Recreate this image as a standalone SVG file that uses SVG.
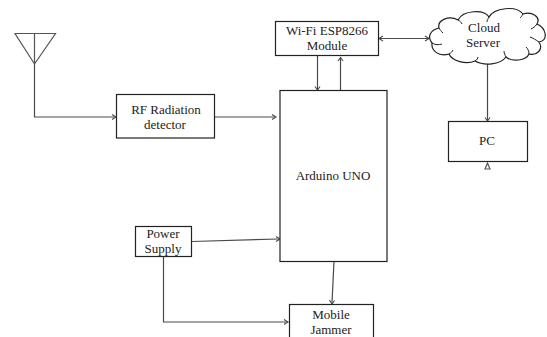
<svg xmlns="http://www.w3.org/2000/svg" width="547" height="337" viewBox="0 0 547 337">
<style>
.b{fill:#fff;stroke:#222;stroke-width:1.2}
.g{fill:#fff;stroke:#555;stroke-width:1.2}
.c{fill:none;stroke:#4a4a4a;stroke-width:1.2}
.h{fill:none;stroke:#4a4a4a;stroke-width:1.1}
.d{fill:none;stroke:#222;stroke-width:1}
text{font-family:"Liberation Serif","Times New Roman",serif;font-size:13px;fill:#222;text-anchor:middle}
</style>
<rect width="547" height="337" fill="#fff"/>
<g id="connectors">
<path class="c" d="M34.500 64V117H115"/><path class="h" d="M112 114.500L116 117L112 119.500"/>
<path class="c" d="M215 117H275"/><path class="h" d="M272 114.500L276 117L272 119.500"/>
<path class="c" d="M317.500 56V89"/><path class="h" d="M315 86.500L317.500 90L320 86.500"/>
<path class="c" d="M340.500 90V58"/><path class="h" d="M338 61L340.500 57.500L343 61"/>
<path class="c" d="M380 38.500H428"/><path class="h" d="M383 36L379 38.500L383 41M425 36L429 38.500L425 41"/>
<path class="c" d="M487.500 64V120"/><path class="h" d="M485 117.500L487.500 121L490 117.500"/>
<path class="c" d="M192 241.500L279 239"/><path class="h" d="M276 236.500L280 239L276 241.500"/>
<path class="c" d="M163.500 257V322H287"/><path class="h" d="M284 319.500L288 322L284 324.500"/>
<path class="c" d="M334 261L332 303"/><path class="h" d="M329.500 300L332 304L334.500 300.500"/>
</g>
<g id="antenna"><path class="g" style="fill:none" d="M15 33.500H55.500L34.500 64ZM34.500 33.500V64"/></g>
<g id="rf"><rect class="b" x="116.500" y="94.500" width="98" height="43.500"/><text x="166" y="114">RF Radiation</text><text x="165" y="129">detector</text></g>
<g id="wifi"><rect class="b" x="275.500" y="21.500" width="103" height="34"/><text x="327" y="35">Wi-Fi ESP8266</text><text x="327" y="50">Module</text></g>
<g id="cloud"><path class="b" d="M432 43C427 37 430 30 439 28C437 20 449 15 458 20C463 10 484 9 489 17C494 8 516 5 523 14C532 11 541 17 537 24C546 28 549 40 539 42C544 50 536 56 529 54C526 61 512 62 506 57C500 65 484 66 475 61C466 65 452 61 449 54C439 57 431 51 432 43Z"/>
<path class="d" d="M432 43C435 45 439 45 442 44M439 28C440 30 441 31 443 33M458 20C460 21 461 22 462 24M489 17C488 19 487 20 487 22M523 14C522 16 521 17 520 18M537 24C535 27 533 28 531 29M539 42C536 40 533 38 530 37M529 54C529 51 528 49 526 47M506 57C505 55 504 53 504 51M475 61C477 60 478 58 478 57M449 54C451 53 452 52 453 50"/>
<text x="484" y="32">Cloud</text><text x="483" y="47">Server</text></g>
<g id="arduino"><rect class="b" x="280" y="90.500" width="107" height="171"/><text x="333" y="180">Arduino UNO</text></g>
<g id="pc"><rect class="b" x="448.500" y="121.500" width="79" height="40"/><text x="487" y="145">PC</text><path class="g" d="M485 169L487.500 163L490 169Z"/></g>
<g id="power"><rect class="b" x="135.500" y="226.500" width="56" height="30"/><text x="163" y="238">Power</text><text x="163" y="253">Supply</text></g>
<g id="jammer"><rect class="b" x="289.500" y="304.500" width="84" height="40"/><text x="331" y="319">Mobile</text><text x="331" y="334">Jammer</text></g>
</svg>
